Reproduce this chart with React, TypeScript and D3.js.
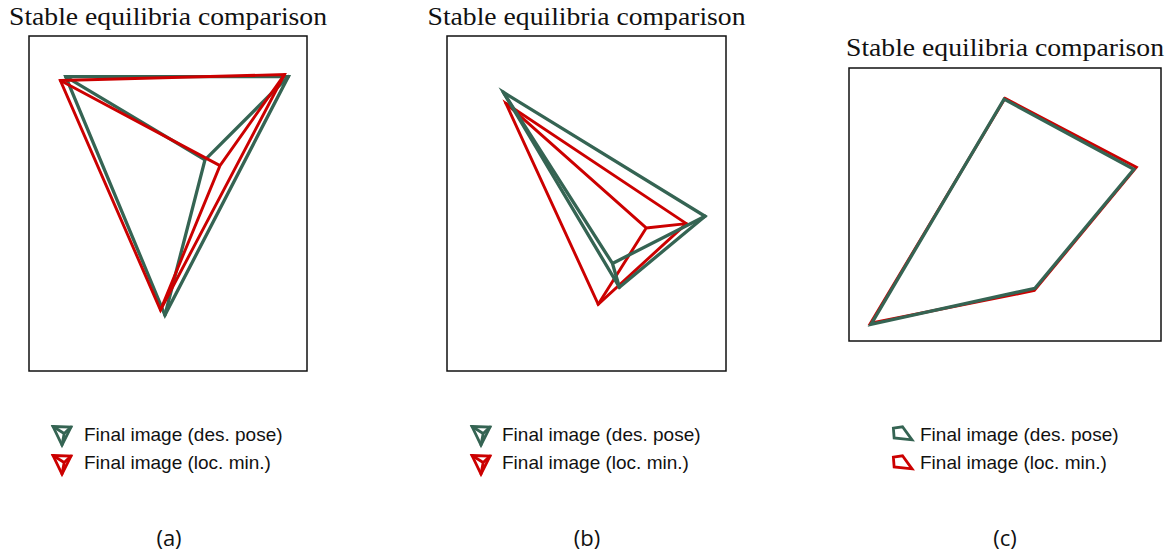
import React from 'react';
import * as d3 from 'd3';

// ---------- data ----------
const panelLabels = ['(a)', '(b)', '(c)'];
const titleText = 'Stable equilibria comparison';
const legendLabels = ['Final image (des. pose)', 'Final image (loc. min.)'];

// normalized image-plane coordinates [u, v] (0..1 across the frame, v downward)
const desPoseA = [[0.132, 0.1215], [0.933, 0.121], [0.489, 0.833], [0.633, 0.370]];
const locMinA = [[0.113, 0.133], [0.919, 0.115], [0.473, 0.818], [0.687, 0.387]];
const desPoseB = [[0.202, 0.168], [0.925, 0.538], [0.618, 0.750], [0.593, 0.679]];
const locMinB = [[0.211, 0.201], [0.858, 0.560], [0.542, 0.801], [0.714, 0.573]];
const desPoseC = [[0.497, 0.114], [0.913, 0.371], [0.596, 0.807], [0.0705, 0.939]];
const locMinC = [[0.500, 0.111], [0.921, 0.363], [0.594, 0.815], [0.069, 0.935]];

const tetraOuter = [0, 1, 2];
const tetraSpokes = [[0, 3], [1, 3], [2, 3]];
const quadOuter = [0, 1, 2, 3];

// legend marker shapes (normalized in marker box)
const tetraIcon = [[0, 0], [1, 0.03], [0.5, 1], [0.62, 0.38]];
const quadIcon = [[0.02, 0.12], [0.5, 0.02], [1, 0.95], [0.06, 0.82]];

// ---------- styles / layout ----------
const GREEN = '#356453';
const RED = '#cc0000';

type Pt = number[];
type Panel = {
  frame: { x: number; y: number; w: number; h: number };
  titleY: number;
  kind: 'tetra' | 'quad';
  des: Pt[];
  loc: Pt[];
  redOnTop: boolean;
  legend: { iconX: number; iconW: number; iconH: number; textX: number };
  labelX: number;
};

const panels: Panel[] = [
  {
    frame: { x: 29, y: 36, w: 278, h: 335 }, titleY: 25, kind: 'tetra',
    des: desPoseA, loc: locMinA, redOnTop: true,
    legend: { iconX: 53, iconW: 18, iconH: 18.5, textX: 84 }, labelX: 169,
  },
  {
    frame: { x: 447, y: 36, w: 279, h: 335 }, titleY: 25, kind: 'tetra',
    des: desPoseB, loc: locMinB, redOnTop: false,
    legend: { iconX: 472, iconW: 18, iconH: 18.5, textX: 502 }, labelX: 587,
  },
  {
    frame: { x: 849, y: 68, w: 312, h: 273 }, titleY: 56, kind: 'quad',
    des: desPoseC, loc: locMinC, redOnTop: false,
    legend: { iconX: 893, iconW: 19, iconH: 14, textX: 920 }, labelX: 1005,
  },
];

const legendRows = [
  { baseline: 441, iconTop: 426.5 },
  { baseline: 468.5, iconTop: 455.5 },
];

function shapePaths(pts: Pt[], kind: 'tetra' | 'quad', sx: (v: number) => number, sy: (v: number) => number) {
  const line = d3.line<Pt>().x((d) => sx(d[0])).y((d) => sy(d[1]));
  const outerIdx = kind === 'tetra' ? tetraOuter : quadOuter;
  const outer = line(outerIdx.map((i) => pts[i])) + 'Z';
  let spokes = '';
  if (kind === 'tetra') {
    spokes = tetraSpokes.map(([a, b]) => line([pts[a], pts[b]])).join('');
  }
  return { outer, spokes };
}

function Shape({ pts, kind, sx, sy, color, width }: any) {
  const { outer, spokes } = shapePaths(pts, kind, sx, sy);
  return (
    <g fill="none" stroke={color} strokeWidth={width}>
      <path d={outer} strokeLinejoin="miter" strokeMiterlimit={10} />
      {spokes && <path d={spokes} strokeLinecap="round" />}
    </g>
  );
}

function PanelView({ p, idx }: { p: Panel; idx: number }) {
  const { frame } = p;
  const sx = d3.scaleLinear().domain([0, 1]).range([frame.x, frame.x + frame.w]);
  const sy = d3.scaleLinear().domain([0, 1]).range([frame.y, frame.y + frame.h]);
  const green = <Shape key="g" pts={p.des} kind={p.kind} sx={sx} sy={sy} color={GREEN} width={3.3} />;
  const red = <Shape key="r" pts={p.loc} kind={p.kind} sx={sx} sy={sy} color={RED} width={2.9} />;
  const cx = frame.x + frame.w / 2;
  const iconShape = p.kind === 'tetra' ? tetraIcon : quadIcon;
  return (
    <g>
      <text x={cx} y={p.titleY} textAnchor="middle" fontFamily="'Liberation Serif', serif" fontSize={25}
        textLength={318} lengthAdjust="spacingAndGlyphs" fill="#111">{titleText}</text>
      <rect x={frame.x} y={frame.y} width={frame.w} height={frame.h} fill="none" stroke="#111" strokeWidth={1.5} />
      {p.redOnTop ? [green, red] : [red, green]}
      {legendRows.map((row, i) => {
        const ix = d3.scaleLinear().domain([0, 1]).range([p.legend.iconX, p.legend.iconX + p.legend.iconW]);
        const iy = d3.scaleLinear().domain([0, 1]).range([row.iconTop, row.iconTop + p.legend.iconH]);
        return (
          <g key={i}>
            <Shape pts={iconShape} kind={p.kind} sx={ix} sy={iy} color={i === 0 ? GREEN : RED} width={2.8} />
            <text x={p.legend.textX} y={row.baseline} fontFamily="'Liberation Sans', Arial, sans-serif" fontSize={19} fill="#111">
              {legendLabels[i]}
            </text>
          </g>
        );
      })}
      <text x={p.labelX} y={546} textAnchor="middle" fontFamily="'Open Sans', sans-serif" fontSize={22} fill="#111">
        {panelLabels[idx]}
      </text>
    </g>
  );
}

export default function App() {
  return (
    <svg width={1170} height={556} style={{ position: 'absolute', left: 0, top: 0, background: '#fff' }}>
      <rect width={1170} height={556} fill="#fff" />
      {panels.map((p, i) => <PanelView key={i} p={p} idx={i} />)}
    </svg>
  );
}
